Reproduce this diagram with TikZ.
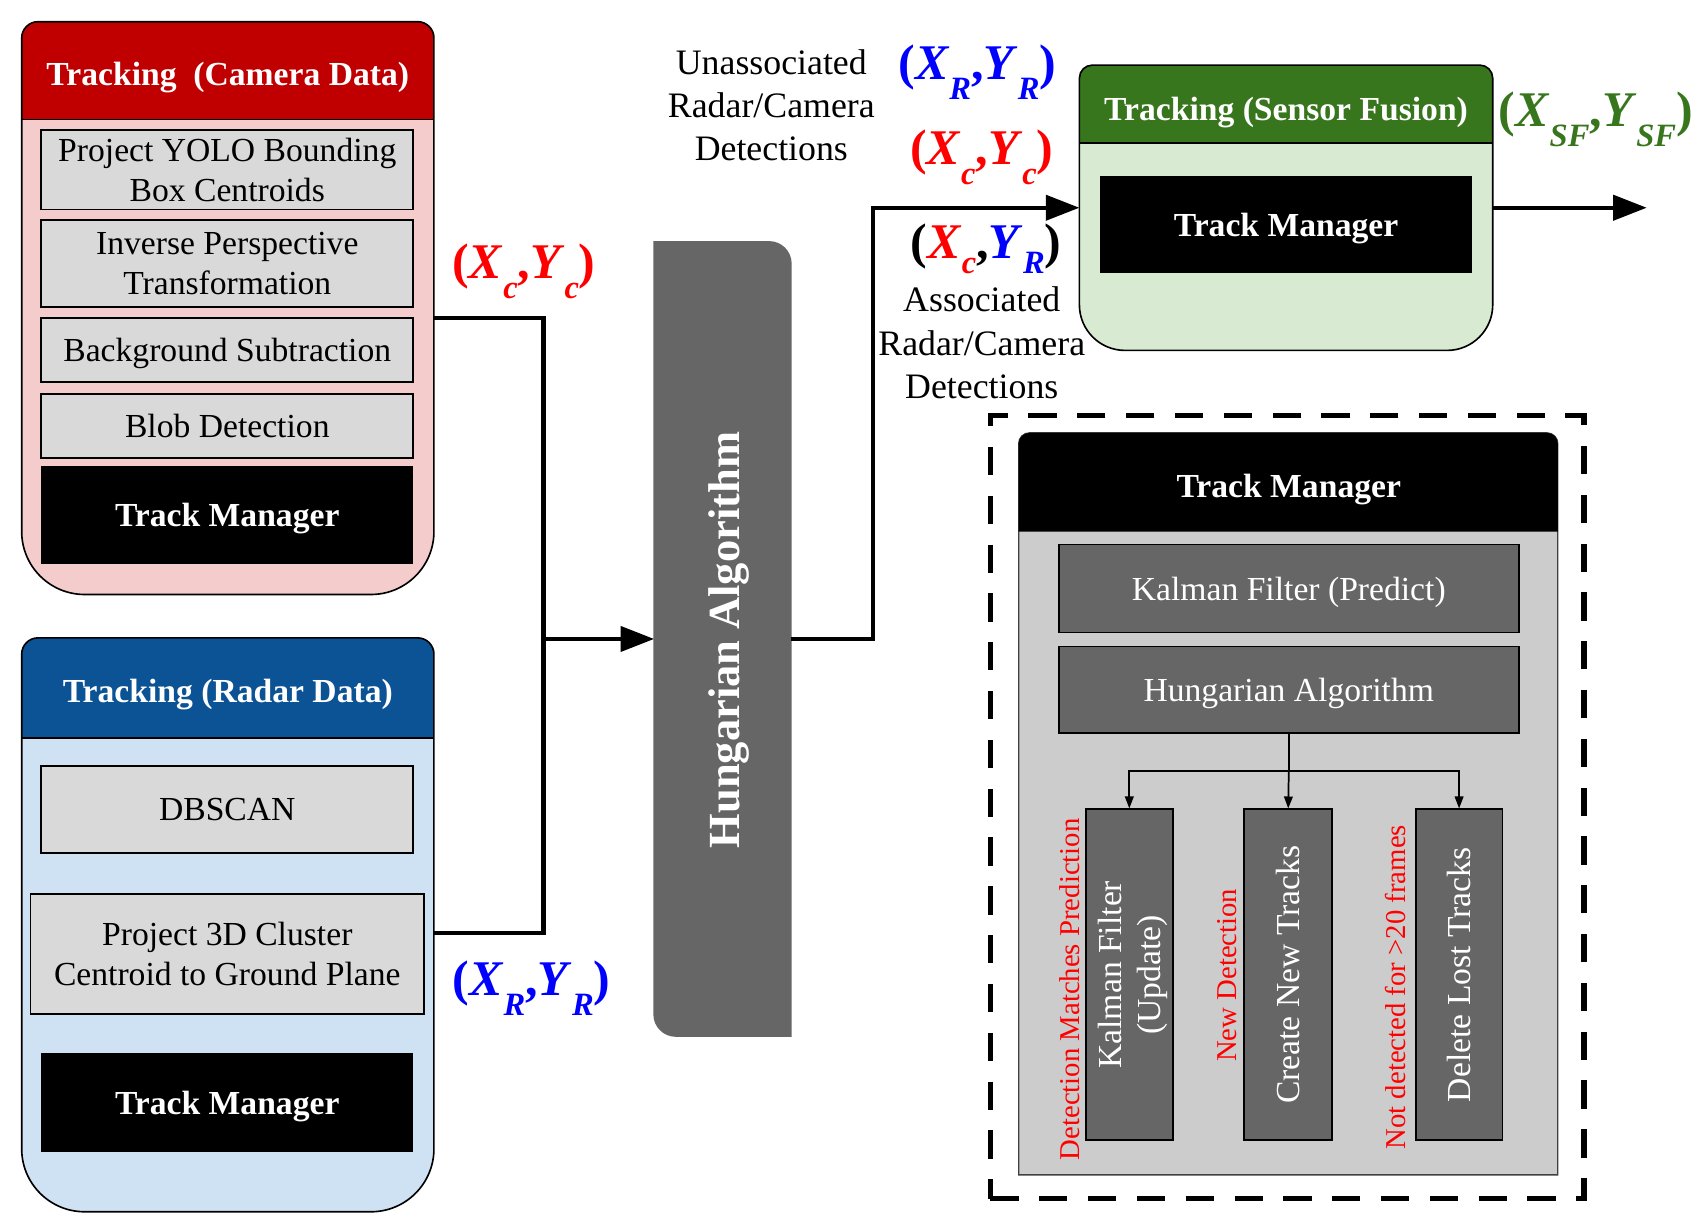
\documentclass[tikz,border=0pt]{standalone}
\usepackage{fontspec}
\setmainfont{Liberation Serif}
\usetikzlibrary{arrows.meta}
\definecolor{camred}{HTML}{C00000}
\definecolor{campink}{HTML}{F4CCCC}
\definecolor{radblue}{HTML}{0B5394}
\definecolor{radlight}{HTML}{CFE2F3}
\definecolor{sfgreen}{HTML}{38761D}
\definecolor{sflight}{HTML}{D9EAD3}
\definecolor{boxgray}{HTML}{D9D9D9}
\definecolor{midgray}{HTML}{666666}
\definecolor{panelgray}{HTML}{CCCCCC}
\definecolor{lblred}{HTML}{FF0000}
\definecolor{lblblue}{HTML}{0000FF}
\newcommand\fsz[2]{\fontsize{#1}{#2}\selectfont}
\newcommand\lsub[1]{\raisebox{-0.4em}{\fsz{30}{30}#1}}
\newcommand\lsubb[1]{\raisebox{-0.3em}{\fsz{30}{30}#1}}
\newcommand\rshape[9]{\path[#1]
 ({#2},{#3+#6}) .. controls ({#2},{#3+0.448*#6}) and ({#2+0.448*#6},{#3}) .. ({#2+#6},{#3})
 -- ({#4-#7},{#3}) .. controls ({#4-0.448*#7},{#3}) and ({#4},{#3+0.448*#7}) .. ({#4},{#3+#7})
 -- ({#4},{#5-#8}) .. controls ({#4},{#5-0.448*#8}) and ({#4-0.448*#8},{#5}) .. ({#4-#8},{#5})
 -- ({#2+#9},{#5}) .. controls ({#2+0.448*#9},{#5}) and ({#2},{#5-0.448*#9}) .. ({#2},{#5-#9}) -- cycle;}
\tikzset{
 ghost/.style={inner sep=0pt, outer sep=0pt, draw=none},
 stepbox/.style={draw=black, line width=1.6pt, fill=boxgray, inner sep=0pt, align=center, font=\fsz{31}{37}, text depth=0pt},
 tmbox/.style={fill=black, inner sep=0pt, text=white, font=\bfseries\fsz{31}{36}, text depth=0pt},
 dkbox/.style={draw=black, line width=1.6pt, fill=midgray, inner sep=0pt},
 wtext/.style={text=white, font=\fsz{31}{36}, align=center, inner sep=0pt, text depth=0pt},
 titletext/.style={text=white, font=\bfseries\fsz{31}{36}, inner sep=0pt, text depth=0pt},
 lbl/.style={font=\bfseries\fsz{46}{50}, inner sep=0pt, anchor=base},
 notetext/.style={font=\fsz{33}{40}, align=center, inner sep=0pt},
 redlbl/.style={text=lblred, font=\fsz{26.5}{30}, rotate=90, inner sep=0pt, text depth=0pt},
 conn/.style={line width=4pt, line join=miter},
 bigarrow/.style={conn, -{Triangle[length=31pt,width=23pt]}},
 treeline/.style={line width=1.6pt},
 smallarrow/.style={treeline, -{Triangle[length=11pt,width=8pt]}},
 dashbox/.style={draw=black, line width=5pt, dash pattern=on 26pt off 19pt},
}
\begin{document}
\begin{tikzpicture}[x=1pt,y=-1pt]
\useasboundingbox (0,0) rectangle (1568,1135);
% ---------- camera container
\rshape{fill=campink}{20}{20}{400}{548}{15}{15}{58}{58}
\rshape{fill=camred}{20}{20}{400}{110}{15}{15}{0}{0}
\rshape{draw=black, line width=1.5pt}{20}{20}{400}{548}{15}{15}{58}{58}
\draw[line width=1.5pt] (20,110) -- (400,110);
\node[ghost, minimum width=380pt, minimum height=528pt] (cam) at (210,284) {};
\node[titletext] (camtitle) at (210,68) {Tracking~ (Camera Data)};
\node[stepbox, minimum width=343pt, minimum height=73pt] (yolo) at (209.5,156.5) {Project YOLO Bounding\\Box Centroids};
\node[stepbox, minimum width=343pt, minimum height=80pt] (ipt) at (209.5,243) {Inverse Perspective\\Transformation};
\node[stepbox, minimum width=343pt, minimum height=59pt] (bgs) at (209.5,322.5) {Background Subtraction};
\node[stepbox, minimum width=343pt, minimum height=59pt] (blob) at (209.5,392.5) {Blob Detection};
\node[tmbox, minimum width=343pt, minimum height=90pt] (camtm) at (209.5,475) {Track Manager};
% ---------- radar container
\rshape{fill=radlight}{20}{588}{400}{1117}{15}{15}{58}{58}
\rshape{fill=radblue}{20}{588}{400}{680}{15}{15}{0}{0}
\rshape{draw=black, line width=1.5pt}{20}{588}{400}{1117}{15}{15}{58}{58}
\draw[line width=1.5pt] (20,680) -- (400,680);
\node[ghost, minimum width=380pt, minimum height=529pt] (rad) at (210,852.5) {};
\node[titletext] (radtitle) at (210,637) {Tracking (Radar Data)};
\node[stepbox, minimum width=343pt, minimum height=80pt] (dbscan) at (209.5,746) {DBSCAN};
\node[stepbox, minimum width=363pt, minimum height=111pt] (proj3d) at (209.5,879.5) {Project 3D Cluster\\Centroid to Ground Plane};
\node[tmbox, minimum width=343pt, minimum height=91pt] (radtm) at (209.5,1016.5) {Track Manager};
% ---------- hungarian
\rshape{fill=midgray, draw=black!60, line width=1.5pt}{603}{223}{729}{955}{0}{20}{0}{20}
\node[ghost, minimum width=126pt, minimum height=732pt] (hung) at (666,589) {};
\node[rotate=90, text=white, font=\bfseries\fsz{41}{44}, inner sep=0pt, text depth=0pt] (hungtxt) at (667,590) {Hungarian Algorithm};
% ---------- sensor fusion
\rshape{fill=sflight}{995}{60}{1376}{323}{12}{12}{42}{42}
\rshape{fill=sfgreen}{995}{60}{1376}{132}{12}{12}{0}{0}
\rshape{draw=black, line width=1.5pt}{995}{60}{1376}{323}{12}{12}{42}{42}
\draw[line width=1.5pt] (995,132) -- (1376,132);
\node[ghost, minimum width=381pt, minimum height=263pt] (sf) at (1185.5,191.5) {};
\node[titletext] (sftitle) at (1185.5,100) {Tracking (Sensor Fusion)};
\node[tmbox, minimum width=343pt, minimum height=90pt] (sftm) at (1185.5,207) {Track Manager};
% ---------- connectors
\coordinate (junc) at (501,589);
\coordinate (bend) at (805,191.5);
\coordinate (sfout) at (1518,191.5);
\draw[conn] ([yshift=-9pt]cam.east) -| (junc);
\draw[conn] ([yshift=-7.5pt]rad.east) -| (junc);
\draw[bigarrow] (junc) -- (hung.west);
\draw[bigarrow] (hung.east) -| (bend) -- (sf.west);
\draw[bigarrow] (sf.east) -- (sfout);
% ---------- labels
\node[lbl, text=lblred] (lxc) at (483,257) {(\textit{X}\lsub{\textit{c}},\textit{Y}\lsub{\textit{c}})};
\node[lbl, text=lblblue] (lxr) at (490,918) {(\textit{X}\lsub{\textit{R}},\textit{Y}\lsub{\textit{R}})};
\node[notetext] (unassoc) at (711,97) {Unassociated\\Radar/Camera\\Detections};
\node[lbl, text=lblblue] (uxr) at (901,73) {(\textit{X}\lsub{\textit{R}},\textit{Y}\lsub{\textit{R}})};
\node[lbl, text=lblred] (uxc) at (905,152) {(\textit{X}\lsub{\textit{c}},\textit{Y}\lsub{\textit{c}})};
\node[lbl] (axy) at (909,238) {(\textcolor{lblred}{\textit{X}\lsubb{\textit{c}}},\textcolor{lblblue}{\textit{Y}\lsubb{\textit{R}}})};
\node[notetext] (assoc) at (905,316) {Associated\\Radar/Camera\\Detections};
\node[lbl, text=sfgreen] (lsf) at (1471,117) {(\textit{X}\lsub{\textit{SF}},\textit{Y}\lsub{\textit{SF}})};
% ---------- track manager detail
\node[dashbox, ghost, draw=black, minimum width=547pt, minimum height=722pt] (dash) at (1186.5,744) {};
\rshape{fill=panelgray, draw=black!75, line width=1.2pt}{939}{399}{1436}{1083}{10}{10}{0}{0}
\rshape{fill=black}{939}{399}{1436}{490}{10}{10}{0}{0}
\node[titletext] (tmtitle) at (1188,448) {Track Manager};
\node[dkbox, minimum width=424pt, minimum height=81pt] (kfp) at (1188,542.5) {};
\node[wtext] at (kfp) {Kalman Filter (Predict)};
\node[dkbox, minimum width=424pt, minimum height=80pt] (hung2) at (1188,636) {};
\node[wtext] at (hung2) {Hungarian Algorithm};
\node[dkbox, minimum width=80pt, minimum height=305pt] (kfu) at (1041,898.5) {};
\node[wtext, rotate=90] at (kfu) {Kalman Filter\\(Update)};
\node[dkbox, minimum width=81pt, minimum height=305pt] (cnt) at (1187.5,898.5) {};
\node[wtext, rotate=90] at (cnt) {Create New Tracks};
\node[dkbox, minimum width=80pt, minimum height=305pt] (dlt) at (1345,898.5) {};
\node[wtext, rotate=90] at (dlt) {Delete Lost Tracks};
\coordinate (split) at (1188,711);
\draw[treeline] (hung2.south) -- (split);
\draw[smallarrow] (split) -| (kfu.north);
\draw[smallarrow] (split) -- (cnt.north);
\draw[smallarrow] (split) -| (dlt.north);
\node[redlbl] (lmatch) at (986,912) {Detection Matches Prediction};
\node[redlbl] (lnew) at (1131,899) {New Detection};
\node[redlbl] (llost) at (1286,910) {Not detected for >20 frames};
\end{tikzpicture}
\end{document}
